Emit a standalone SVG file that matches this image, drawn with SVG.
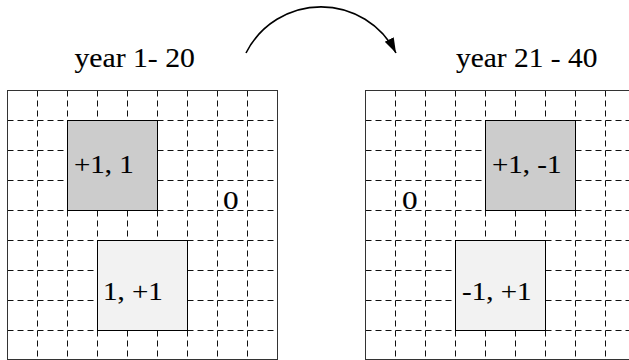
<svg xmlns="http://www.w3.org/2000/svg" width="629" height="360" viewBox="0 0 629 360">
  <style>
    .border { fill: none; stroke: #333; stroke-width: 1; }
    .dash { stroke: #111; stroke-width: 1; stroke-dasharray: 6 4; fill: none; }
    .dark { fill: #cccccc; stroke: #000; stroke-width: 1; }
    .light { fill: #f2f2f2; stroke: #000; stroke-width: 1; }
    .arc { fill: none; stroke: #000; stroke-width: 1.6; }
  </style>
  <defs>
    <marker id="head" markerUnits="userSpaceOnUse" markerWidth="16" markerHeight="12" refX="15" refY="5" orient="auto">
      <path d="M0,0 L15,5 L0,10 z" fill="#000"/>
    </marker>
    <!-- 9x9 dashed grid, 30px cells -->
    <g id="gridlines">
      <path class="dash" d="M30,0V270 M60,0V270 M90,0V270 M120,0V270 M150,0V270 M180,0V270 M210,0V270 M240,0V270"/>
      <path class="dash" d="M0,30H270 M0,60H270 M0,90H270 M0,120H270 M0,150H270 M0,180H270 M0,210H270 M0,240H270"/>
    </g>
  </defs>

  <rect width="629" height="360" fill="#fff"/>

  <!-- years 1-20 panel -->
  <g id="panel-left">
    <text font-family="Liberation Serif, serif" font-size="27" fill="#000" stroke="#000" stroke-width="0.12" transform="translate(74.5,67) scale(1.1,1)">year 1- 20</text>
    <use href="#gridlines" x="7.5" y="90.5"/>
    <rect class="border" x="7.5" y="90.5" width="270" height="269"/>
  </g>
  <g id="left-upper">
    <rect class="dark" x="67.5" y="120.5" width="90" height="90"/>
    <text font-family="Liberation Serif, serif" font-size="25" fill="#000" stroke="#000" stroke-width="0.12" transform="translate(74,173) scale(1.16,1)">+1, 1</text>
  </g>
  <g id="left-lower">
    <rect class="light" x="97.5" y="240.5" width="90" height="90"/>
    <text font-family="Liberation Serif, serif" font-size="25" fill="#000" stroke="#000" stroke-width="0.12" transform="translate(103,300) scale(1.16,1)">1, +1</text>
  </g>
  <g id="left-zero">
    <text font-family="Liberation Serif, serif" font-size="26" fill="#000" stroke="#000" stroke-width="0.12" transform="translate(223,209) scale(1.2,1)">0</text>
  </g>

  <!-- years 21-40 panel -->
  <g id="panel-right">
    <text font-family="Liberation Serif, serif" font-size="27" fill="#000" stroke="#000" stroke-width="0.12" transform="translate(456,67) scale(1.09,1)">year 21 - 40</text>
    <use href="#gridlines" x="365.5" y="90.5"/>
    <rect class="border" x="365.5" y="90.5" width="270" height="269"/>
  </g>
  <g id="right-upper">
    <rect class="dark" x="485.5" y="120.5" width="90" height="90"/>
    <text font-family="Liberation Serif, serif" font-size="25" fill="#000" stroke="#000" stroke-width="0.12" transform="translate(492,173) scale(1.16,1)">+1, -1</text>
  </g>
  <g id="right-lower">
    <rect class="light" x="455.5" y="240.5" width="90" height="90"/>
    <text font-family="Liberation Serif, serif" font-size="25" fill="#000" stroke="#000" stroke-width="0.12" transform="translate(462,300) scale(1.16,1)">-1, +1</text>
  </g>
  <g id="right-zero">
    <text font-family="Liberation Serif, serif" font-size="26" fill="#000" stroke="#000" stroke-width="0.12" transform="translate(402,209) scale(1.2,1)">0</text>
  </g>

  <!-- transition arrow -->
  <g id="connectors">
    <path class="arc" d="M246,53 A84,84 0 0 1 396,53" marker-end="url(#head)"/>
  </g>
</svg>
